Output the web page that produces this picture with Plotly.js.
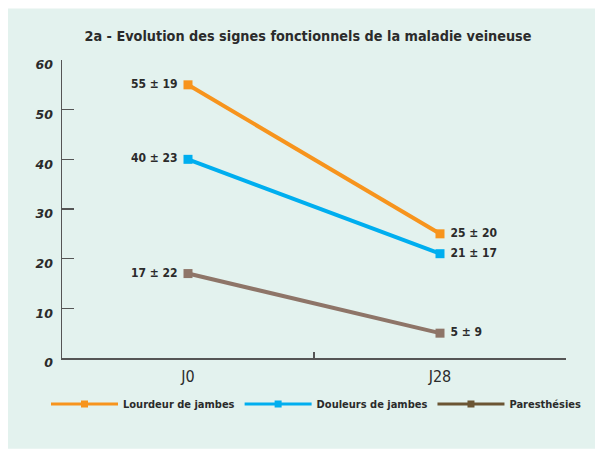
<!DOCTYPE html>
<html>
<head>
<meta charset="utf-8">
<script src="https://cdn.plot.ly/plotly-3.0.1.min.js"></script>
<style>html,body{margin:0;padding:0;background:#fff;}#chart{width:595px;height:449px;}</style>
</head>
<body>
<div id="chart"></div>
<script>
var categories = ["J0", "J28"];
var seriesNames = ["Lourdeur de jambes", "Douleurs de jambes", "Paresthésies"];
var lourdeur = [55, 25];
var douleurs = [40, 21];
var paresthesies = [17, 5];
var lourdeurLabels = ["55 ± 19", "25 ± 20"];
var douleursLabels = ["40 ± 23", "21 ± 17"];
var paresthesiesLabels = ["17 ± 22", "5 ± 9"];
var yTicks = [0, 10, 20, 30, 40, 50, 60];

var lineColors = ["#F7941D", "#00AEEF", "#8E7568"];
var legendColors = ["#F7941D", "#00AEEF", "#6B5533"];
var values = [lourdeur, douleurs, paresthesies];
var labels = [lourdeurLabels, douleursLabels, paresthesiesLabels];

var FONT = "'DejaVu Sans Condensed', 'Liberation Sans Narrow', sans-serif";
var TXT = "#2b2b2b";

var traces = [];
for (var i = 0; i < 3; i++) {
  traces.push({
    x: categories, y: values[i], text: labels[i],
    texttemplate: ["%{text}\u00a0", "\u00a0%{text}"],
    type: "scatter", mode: "lines+markers+text",
    textposition: ["middle left", "middle right"],
    textfont: {family: FONT, size: 12, weight: "bold", color: TXT},
    line: {color: lineColors[i], width: 4},
    marker: {color: lineColors[i], size: 9, symbol: "square"},
    showlegend: false, hoverinfo: "skip", cliponaxis: false
  });
}
for (var j = 0; j < 3; j++) {
  traces.push({
    x: [null], y: [null], name: seriesNames[j],
    type: "scatter", mode: "lines+markers",
    line: {color: legendColors[j], width: 3},
    marker: {color: legendColors[j], size: 7, symbol: "square"},
    showlegend: true
  });
}

var L = 62, R = 29, T = 59.5, B = 91;
var pw = 595 - L - R, ph = 449 - T - B;

var layout = {
  width: 595, height: 449,
  margin: {l: L, r: R, t: T, b: B},
  paper_bgcolor: "#ffffff",
  plot_bgcolor: "rgba(0,0,0,0)",
  title: {text: "2a - Evolution des signes fonctionnels de la maladie veineuse",
    font: {family: FONT, size: 14.3, weight: "bold", color: TXT},
    x: 308 / 595, xanchor: "center", y: 1 - 36 / 449, yanchor: "middle"},
  xaxis: {
    type: "category", range: [-0.5, 1.5],
    showline: true, linecolor: "#555", linewidth: 1.5,
    ticks: "inside", ticklen: 6, tickcolor: "#555", tickwidth: 1.2,
    tickson: "boundaries", showgrid: false, zeroline: false,
    ticklabelstandoff: 3,
    tickfont: {family: FONT, size: 16, color: TXT}, fixedrange: true
  },
  yaxis: {
    range: [0, 60], tickvals: yTicks, ticktext: yTicks.map(String),
    showline: true, linecolor: "#555", linewidth: 1.5,
    ticks: "inside", ticklen: 12, tickcolor: "#555", tickwidth: 1.5,
    showgrid: false, zeroline: false, ticklabelstandoff: 5, ticklabelshift: 5,
    tickfont: {family: "'DejaVu Sans', sans-serif", size: 12.5, weight: "bold", style: "italic", color: TXT},
    fixedrange: true
  },
  legend: {
    orientation: "h", x: (46 - L) / pw, xanchor: "left",
    y: -(404 - (449 - B)) / ph, yanchor: "middle",
    itemwidth: 67,
    font: {family: FONT, size: 11, weight: "bold", color: TXT},
    bgcolor: "rgba(0,0,0,0)", traceorder: "normal"
  },
  shapes: [{
    type: "rect", xref: "paper", yref: "paper", layer: "below",
    x0: (8 - L) / pw, x1: (595 - L) / pw,
    y0: -(B) / ph, y1: (449 - B - 8) / ph,
    fillcolor: "#E3F2EE", line: {width: 0}
  }],
  showlegend: true
};

Plotly.newPlot("chart", traces, layout, {displayModeBar: false, staticPlot: true});
</script>
</body>
</html>
